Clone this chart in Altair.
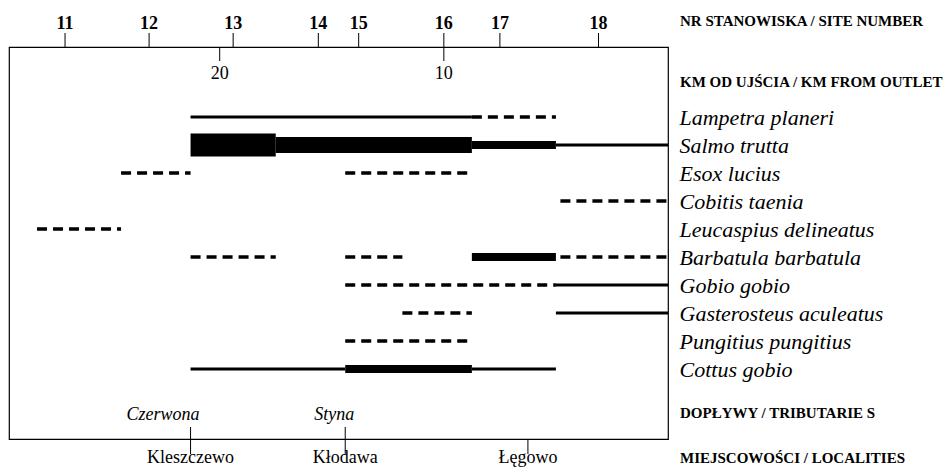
import altair as alt
import pandas as pd

# ---------------- data ----------------
species = ["Lampetra planeri", "Salmo trutta", "Esox lucius", "Cobitis taenia",
           "Leucaspius delineatus", "Barbatula barbatula", "Gobio gobio",
           "Gasterosteus aculeatus", "Pungitius pungitius", "Cottus gobio"]

seg_species = ["Lampetra planeri", "Lampetra planeri",
               "Salmo trutta", "Salmo trutta", "Salmo trutta", "Salmo trutta",
               "Esox lucius", "Esox lucius",
               "Cobitis taenia",
               "Leucaspius delineatus",
               "Barbatula barbatula", "Barbatula barbatula", "Barbatula barbatula", "Barbatula barbatula",
               "Gobio gobio", "Gobio gobio",
               "Gasterosteus aculeatus", "Gasterosteus aculeatus",
               "Pungitius pungitius",
               "Cottus gobio", "Cottus gobio", "Cottus gobio"]
seg_from_km = [21.3, 8.75,
               21.3, 17.5, 8.75, 5.0,
               24.4, 14.4,
               4.8,
               28.15,
               21.3, 14.4, 8.75, 4.8,
               14.4, 5.0,
               11.85, 5.0,
               14.4,
               21.3, 14.4, 8.75]
seg_to_km = [8.75, 5.0,
             17.5, 8.75, 5.0, 0.0,
             21.3, 8.75,
             0.0,
             24.4,
             17.5, 11.85, 5.0, 0.0,
             5.0, 0.0,
             8.75, 0.0,
             8.75,
             14.4, 8.75, 5.0]
seg_class = ["present", "sporadic",
             "dominant", "abundant", "common", "present",
             "sporadic", "sporadic",
             "sporadic",
             "sporadic",
             "sporadic", "sporadic", "common", "sporadic",
             "sporadic", "present",
             "sporadic", "present",
             "sporadic",
             "present", "common", "present"]

site_numbers = ["11", "12", "13", "14", "15", "16", "17", "18"]
site_km = [26.9, 23.15, 19.4, 15.6, 13.8, 10.0, 7.5, 3.1]

km_ticks = [20, 10]

tributaries = ["Czerwona", "Styna"]
tributary_km = [21.3, 14.4]

localities = ["Kleszczewo", "Kłodawa", "Łęgowo"]
locality_km = [21.3, 14.4, 6.25]

header_texts = ["NR STANOWISKA / SITE NUMBER", "KM OD UJŚCIA / KM FROM OUTLET",
                "DOPŁYWY / TRIBUTARIE S", "MIEJSCOWOŚCI / LOCALITIES"]

# ---------------- tables ----------------
segs = pd.DataFrame({"species": seg_species, "km_from": seg_from_km,
                     "km_to": seg_to_km, "cls": seg_class})
segs["row"] = [species.index(s) for s in seg_species]
sites = pd.DataFrame({"site": site_numbers, "km": site_km})
kms = pd.DataFrame({"km": km_ticks, "label": [str(k) for k in km_ticks]})
tribs = pd.DataFrame({"name": tributaries, "km": tributary_km})
locs = pd.DataFrame({"name": localities, "km": locality_km})

W, H = 659, 392
SERIF = "Liberation Serif"

xscale = alt.Scale(domain=[29.4, 0], nice=False, zero=False)
X = lambda f: alt.X(f, type="quantitative", scale=xscale, axis=None)

label_array = "[" + ",".join("'" + s + "'" for s in species) + "]"
yscale = alt.Scale(domain=[-2.5, 11.5], reverse=True, nice=False, zero=False)
yaxis = alt.Axis(orient="right", title=None, domain=False, ticks=False, grid=False,
                 values=list(range(len(species))),
                 labelExpr=label_array + "[datum.value]",
                 labelFont=SERIF, labelFontStyle="italic", labelFontSize=22,
                 labelColor="black", labelPadding=11, labelAlign="left",
                 labelBaseline="middle", labelLimit=400, labelFlush=False,
                 labelOverlap=False)
Y = alt.Y("row:Q", scale=yscale, axis=yaxis)

# line style for each abundance class
class_style = {"present": 3, "common": 8, "abundant": 16, "dominant": 23}

seg_layers = []
for cls, w in class_style.items():
    seg_layers.append(
        alt.Chart(segs).transform_filter(alt.datum.cls == cls).mark_rule(
            color="black", strokeWidth=w).encode(x=X("km_from"), x2="km_to", y=Y))

dashed = alt.Chart(segs).transform_filter(alt.datum.cls == "sporadic").mark_rule(
    color="black", strokeWidth=3.5, strokeDash=[10, 6]).encode(
    x=X("km_from"), x2="km_to", y=Y)

site_ticks = alt.Chart(sites).mark_rule(color="black", strokeWidth=1).encode(
    x=X("km"), y=alt.value(-14), y2=alt.value(0))
site_labels = alt.Chart(sites).mark_text(font=SERIF, fontWeight="bold", fontSize=18,
                                         baseline="alphabetic", color="black").encode(
    x=X("km"), y=alt.value(-18), text="site:N")

km_tick_marks = alt.Chart(kms).mark_rule(color="black", strokeWidth=1).encode(
    x=X("km"), y=alt.value(0), y2=alt.value(14))
km_labels = alt.Chart(kms).mark_text(font=SERIF, fontSize=18, baseline="alphabetic",
                                     color="black").encode(
    x=X("km"), y=alt.value(32), text="label:N")

trib_ticks = alt.Chart(tribs).mark_rule(color="black", strokeWidth=1).encode(
    x=X("km"), y=alt.value(380), y2=alt.value(H))
trib_labels = alt.Chart(tribs).mark_text(font=SERIF, fontStyle="italic", fontSize=18,
                                         align="right", dx=9,
                                         baseline="alphabetic", color="black").encode(
    x=X("km"), y=alt.value(373), text="name:N")

loc_ticks = alt.Chart(locs).mark_rule(color="black", strokeWidth=1).encode(
    x=X("km"), y=alt.value(H), y2=alt.value(H + 15))
loc_labels = alt.Chart(locs).mark_text(font=SERIF, fontSize=18, baseline="alphabetic",
                                       color="black").encode(
    x=X("km"), y=alt.value(416), text="name:N")

header_y = [-21, 40, 371, 416]
headers = [alt.Chart(pd.DataFrame({"t": [t]})).mark_text(
    font=SERIF, fontWeight="bold", fontSize=15, align="left", baseline="alphabetic",
    color="black").encode(x=alt.value(671), y=alt.value(yy), text="t:N")
    for t, yy in zip(header_texts, header_y)]

chart = alt.layer(*seg_layers, dashed, site_ticks, site_labels, km_tick_marks, km_labels,
                  trib_ticks, trib_labels, loc_ticks, loc_labels, *headers).properties(
    width=W, height=H,
    autosize=alt.AutoSizeParams(type="none"),
    padding={"left": 1, "top": 39, "right": 275, "bottom": 28},
    background="white",
).configure_view(stroke="black", strokeWidth=1.2)

chart.save("out.html", embed_options={"renderer": "svg", "actions": False})
